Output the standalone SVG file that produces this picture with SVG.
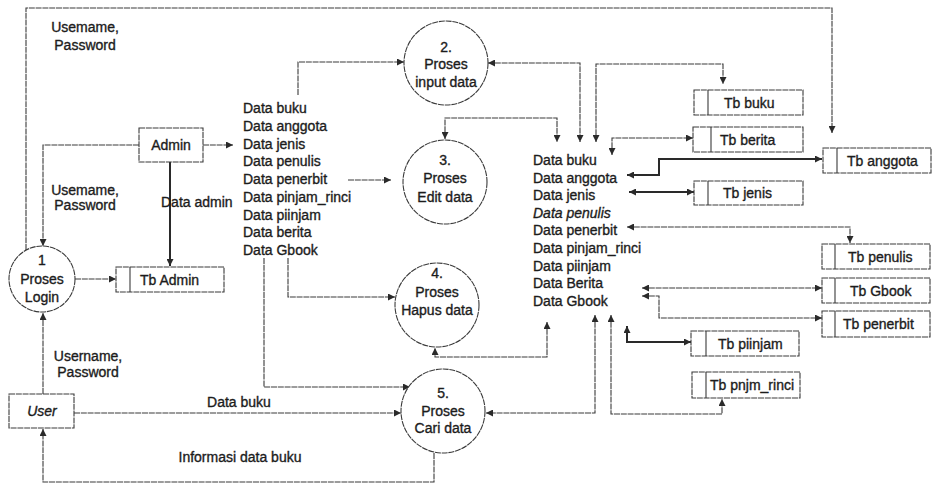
<svg xmlns="http://www.w3.org/2000/svg" width="933" height="486" viewBox="0 0 933 486">
<style>
text{font-family:"Liberation Sans",Arial,sans-serif;font-size:14px;fill:#1c1c1c;stroke:#1c1c1c;stroke-width:0.35}
.m{text-anchor:middle}
.it{font-style:italic}
.ln{fill:none;stroke:#3a3a3a;stroke-width:1.1;stroke-dasharray:6 0.8}
.thk{fill:none;stroke:#2a2a2a;stroke-width:2}
.box{fill:#fff;stroke:#3a3a3a;stroke-width:1.1;stroke-dasharray:6 0.8}
.dv{stroke:#3a3a3a;stroke-width:1.1}
</style>
<defs>
<marker id="a" viewBox="0 0 10 10" refX="10" refY="5" markerWidth="9" markerHeight="7" markerUnits="userSpaceOnUse" orient="auto-start-reverse">
<path d="M0,0 L10,5 L0,10 z" fill="#2a2a2a"/>
</marker>
</defs>
<rect width="933" height="486" fill="#fff"/>

<g id="connectors">
<path class="ln" d="M26,250 V8 H832 V133" marker-end="url(#a)"/>
<path class="ln" d="M139,145 H43 V246" marker-end="url(#a)"/>
<path class="ln" d="M203,145 H233" marker-end="url(#a)"/>
<path class="thk" d="M170,162 V266" marker-end="url(#a)"/>
<path class="ln" d="M75,279 H116" marker-end="url(#a)"/>
<path class="ln" d="M43,394 V313" marker-end="url(#a)"/>
<path class="ln" d="M74,413 H401" marker-end="url(#a)"/>
<path class="ln" d="M434,453 V482 H43 V429" marker-end="url(#a)"/>
<path class="ln" d="M298,95 V62 H404" marker-end="url(#a)"/>
<path class="ln" d="M348,180 H391" marker-end="url(#a)"/>
<path class="ln" d="M288,258 V297 H395" marker-end="url(#a)"/>
<path class="ln" d="M264,258 V387 H410" marker-end="url(#a)"/>
<path class="ln" d="M488,63 H580 V142" marker-start="url(#a)" marker-end="url(#a)"/>
<path class="ln" d="M445,139 V118 H557 V142" marker-start="url(#a)" marker-end="url(#a)"/>
<path class="ln" d="M596,142 V64 H723 V84" marker-start="url(#a)" marker-end="url(#a)"/>
<path class="ln" d="M612,155 V138 H693" marker-start="url(#a)" marker-end="url(#a)"/>
<path class="thk" d="M627,175 H659 V159 H822" marker-start="url(#a)" marker-end="url(#a)"/>
<path class="thk" d="M629,192 H694" marker-start="url(#a)" marker-end="url(#a)"/>
<path class="ln" d="M627,227 H850 V243" marker-start="url(#a)" marker-end="url(#a)"/>
<path class="ln" d="M642,288 H822" marker-start="url(#a)" marker-end="url(#a)"/>
<path class="ln" d="M642,296 H659 V318 H822" marker-start="url(#a)" marker-end="url(#a)"/>
<path class="thk" d="M627,326 V342 H691" marker-start="url(#a)" marker-end="url(#a)"/>
<path class="ln" d="M611,315 V414 H722 V399" marker-start="url(#a)" marker-end="url(#a)"/>
<path class="ln" d="M595,315 V413 H486" marker-start="url(#a)" marker-end="url(#a)"/>
<path class="ln" d="M547,322 V357 H435 V348" marker-start="url(#a)" marker-end="url(#a)"/>
</g>

<g id="labels">
<text class="m" x="85" y="32">Usemame,</text>
<text class="m" x="85" y="50">Password</text>
<text class="m" x="85" y="195">Usemame,</text>
<text class="m" x="85" y="210">Password</text>
<text class="m" x="88" y="361">Username,</text>
<text class="m" x="88" y="377">Password</text>
<text x="161" y="207">Data admin</text>
<text class="m" x="239" y="407">Data buku</text>
<text class="m" x="240" y="462">Informasi data buku</text>
</g>

<g id="data-list-1">
<text x="243" y="113.3">Data buku</text>
<text x="243" y="131">Data anggota</text>
<text x="243" y="148.7">Data jenis</text>
<text x="243" y="166.4">Data penulis</text>
<text x="243" y="184.1">Data penerbit</text>
<text x="243" y="201.8">Data pinjam_rinci</text>
<text x="243" y="219.5">Data piinjam</text>
<text x="243" y="237.2">Data berita</text>
<text x="243" y="254.9">Data Gbook</text>
</g>

<g id="data-list-2">
<text x="533" y="165">Data buku</text>
<text x="533" y="182.6">Data anggota</text>
<text x="533" y="200.2">Data jenis</text>
<text class="it" x="533" y="217.8">Data penulis</text>
<text x="533" y="235.4">Data penerbit</text>
<text x="533" y="253">Data pinjam_rinci</text>
<text x="533" y="270.6">Data piinjam</text>
<text x="533" y="288.2">Data Berita</text>
<text x="533" y="305.8">Data Gbook</text>
</g>

<g id="admin">
<rect class="box" x="139" y="128" width="64" height="34"/>
<text class="m" x="171" y="150">Admin</text>
</g>
<g id="user">
<rect class="box" x="9" y="394" width="65" height="34"/>
<text class="m it" x="42" y="416">User</text>
</g>

<g id="proses-login">
<circle class="box" cx="42" cy="279" r="33"/>
<text class="m" x="42" y="265">1</text>
<text class="m" x="42" y="284">Proses</text>
<text class="m" x="42" y="302">Login</text>
</g>
<g id="proses-input">
<circle class="box" cx="446" cy="63" r="42"/>
<text class="m" x="446" y="52">2.</text>
<text class="m" x="446" y="69">Proses</text>
<text class="m" x="446" y="87">input data</text>
</g>
<g id="proses-edit">
<circle class="box" cx="445" cy="182" r="42"/>
<text class="m" x="445" y="165">3.</text>
<text class="m" x="445" y="183">Proses</text>
<text class="m" x="445" y="202">Edit data</text>
</g>
<g id="proses-hapus">
<circle class="box" cx="437" cy="305" r="42"/>
<text class="m" x="437" y="278">4.</text>
<text class="m" x="437" y="297">Proses</text>
<text class="m" x="437" y="315">Hapus data</text>
</g>
<g id="proses-cari">
<circle class="box" cx="443" cy="411" r="42"/>
<text class="m" x="443" y="398">5.</text>
<text class="m" x="443" y="416">Proses</text>
<text class="m" x="443" y="433">Cari data</text>
</g>

<g id="tb-admin">
<rect class="box" x="116" y="267" width="108" height="25"/>
<line class="dv" x1="130" y1="267" x2="130" y2="292"/>
<text x="140" y="284.5">Tb Admin</text>
</g>
<g id="tb-buku">
<rect class="box" x="694" y="90" width="109" height="25"/>
<line class="dv" x1="708" y1="90" x2="708" y2="115"/>
<text x="724" y="107.5">Tb buku</text>
</g>
<g id="tb-berita">
<rect class="box" x="693" y="127" width="110" height="25"/>
<line class="dv" x1="711" y1="127" x2="711" y2="152"/>
<text x="720" y="144.5">Tb berita</text>
</g>
<g id="tb-anggota">
<rect class="box" x="823" y="148" width="108" height="25"/>
<line class="dv" x1="837" y1="148" x2="837" y2="173"/>
<text x="847" y="165.5">Tb anggota</text>
</g>
<g id="tb-jenis">
<rect class="box" x="694" y="181" width="109" height="24"/>
<line class="dv" x1="708" y1="181" x2="708" y2="205"/>
<text x="723" y="198">Tb jenis</text>
</g>
<g id="tb-penulis">
<rect class="box" x="822" y="244" width="108" height="25"/>
<line class="dv" x1="835" y1="244" x2="835" y2="269"/>
<text x="848" y="261.5">Tb penulis</text>
</g>
<g id="tb-gbook">
<rect class="box" x="822" y="278" width="108" height="25"/>
<line class="dv" x1="835" y1="278" x2="835" y2="303"/>
<text x="850" y="295.5">Tb Gbook</text>
</g>
<g id="tb-penerbit">
<rect class="box" x="822" y="311" width="108" height="26"/>
<line class="dv" x1="835" y1="311" x2="835" y2="337"/>
<text x="843" y="329">Tb penerbit</text>
</g>
<g id="tb-piinjam">
<rect class="box" x="691" y="331" width="108" height="25"/>
<line class="dv" x1="706" y1="331" x2="706" y2="356"/>
<text x="718" y="348.5">Tb piinjam</text>
</g>
<g id="tb-pnjm-rinci">
<rect class="box" x="692" y="372" width="108" height="26"/>
<line class="dv" x1="706" y1="372" x2="706" y2="398"/>
<text x="710" y="390">Tb pnjm_rinci</text>
</g>
</svg>
